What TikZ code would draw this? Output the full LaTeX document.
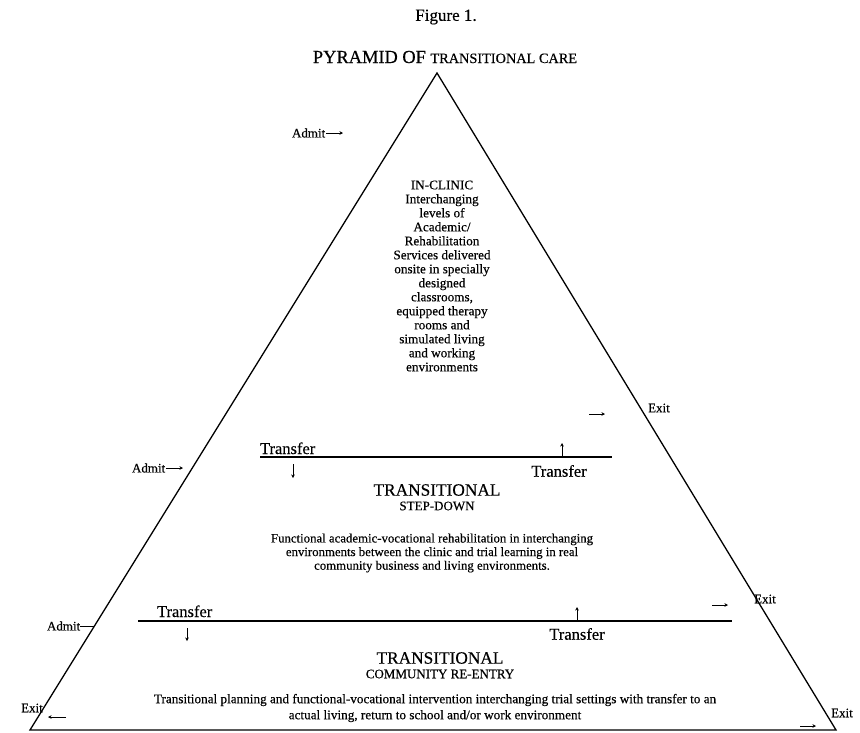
\documentclass[tikz,border=0pt]{standalone}
\usepackage{fontspec}
\setmainfont[FakeBold=0.35]{Liberation Serif}
\usetikzlibrary{arrows.meta}
\begin{document}
\begin{tikzpicture}[x=1pt,y=-1pt,
  every node/.style={inner sep=0pt, outer sep=0pt},
  lbl/.style={font=\fontsize{13}{15}\selectfont},
  trf/.style={font=\fontsize{16.5}{18}\selectfont},
  body/.style={font=\fontsize{12.8}{13.6}\selectfont, align=center},
  head/.style={font=\fontsize{17.3}{19}\selectfont},
  subhead/.style={font=\fontsize{13}{15}\selectfont},
  arr/.style={-{Stealth[length=3.5pt,width=3.5pt]}, line width=0.8pt},
  edgeline/.style={line width=1.3pt},
  bar/.style={line width=1.8pt}]
\useasboundingbox (0,0) rectangle (860,732);
% titles
\node[font=\fontsize{17}{19}\selectfont] (fig) at (446,17) {Figure 1.};
\node[anchor=base] (title) at (445,63) {\fontsize{18.4}{20}\selectfont PYRAMID OF \fontsize{14.3}{16}\selectfont TRANSITIONAL CARE};
% pyramid
\coordinate (apex) at (437,73);
\coordinate (bl) at (30,730);
\coordinate (br) at (836,730);
\draw[edgeline] (apex) -- (bl) -- (br) -- cycle;
% in-clinic
\node[body, font=\fontsize{13.2}{14}\selectfont] (clinic) at (442,276) {IN-CLINIC\\Interchanging\\levels of\\Academic/\\Rehabilitation\\Services delivered\\onsite in specially\\designed\\classrooms,\\equipped therapy\\rooms and\\simulated living\\and working\\environments};
% admit top
\node[lbl, anchor=west] (admit1) at (292,133) {Admit};
\coordinate (admit1e) at (343,133);
\draw[arr] (admit1.east) ++(1,0) -- (admit1e);
% exit 1
\coordinate (ex1a) at (589,414);
\coordinate (ex1b) at (605,414);
\draw[arr] (ex1a) -- (ex1b);
\node[lbl] (exit1) at (659,408) {Exit};
% transfer bar 1
\coordinate (b1l) at (260,457);
\coordinate (b1r) at (612,457);
\draw[bar] (b1l) -- (b1r);
\node[trf, anchor=base west] (t1a) at (260,454) {Transfer};
\coordinate (d1a) at (293,464);
\coordinate (d1b) at (293,478);
\draw[arr] (d1a) -- (d1b);
\coordinate (u1a) at (562,456);
\coordinate (u1b) at (562,443);
\draw[arr] (u1a) -- (u1b);
\node[trf] (t1b) at (559,471) {Transfer};
% admit middle
\node[lbl, anchor=west] (admit2) at (132,468) {Admit};
\coordinate (admit2e) at (183,468);
\draw[arr] (admit2.east) ++(1,0) -- (admit2e);
% step-down
\node[head] (sd1) at (437,490) {TRANSITIONAL};
\node[subhead] (sd2) at (437,506) {STEP-DOWN};
\node[body] (sdtext) at (432,553) {Functional academic-vocational rehabilitation in interchanging\\environments between the clinic and trial learning in real\\community business and living environments.};
% exit 2
\coordinate (ex2a) at (712,605);
\coordinate (ex2b) at (728,605);
\draw[arr] (ex2a) -- (ex2b);
\node[lbl] (exit2) at (765,599) {Exit};
% transfer bar 2
\coordinate (b2l) at (138,621);
\coordinate (b2r) at (732,621);
\draw[bar] (b2l) -- (b2r);
\node[trf, anchor=base west] (t2a) at (157,617) {Transfer};
\coordinate (d2a) at (187,628);
\coordinate (d2b) at (187,641);
\draw[arr] (d2a) -- (d2b);
\coordinate (u2a) at (577,620);
\coordinate (u2b) at (577,607);
\draw[arr] (u2a) -- (u2b);
\node[trf] (t2b) at (577,634) {Transfer};
% admit bottom
\node[lbl, anchor=west] (admit3) at (47,626) {Admit};
\coordinate (admit3e) at (94,626);
\draw[line width=0.8pt] (admit3.east) -- (admit3e);
% community re-entry
\node[head] (cr1) at (440,658) {TRANSITIONAL};
\node[subhead] (cr2) at (440,674) {COMMUNITY RE-ENTRY};
\node[body, font=\fontsize{13.2}{16}\selectfont] (crtext) at (435,708) {Transitional planning and functional-vocational intervention interchanging trial settings with transfer to an\\actual living, return to school and/or work environment};
% exits bottom
\node[lbl] (exit3) at (32,708) {Exit};
\coordinate (ex3a) at (66,717);
\coordinate (ex3b) at (48,717);
\draw[arr] (ex3a) -- (ex3b);
\node[lbl] (exit4) at (842,713) {Exit};
\coordinate (ex4a) at (800,726);
\coordinate (ex4b) at (816,726);
\draw[arr] (ex4a) -- (ex4b);
\end{tikzpicture}
\end{document}
